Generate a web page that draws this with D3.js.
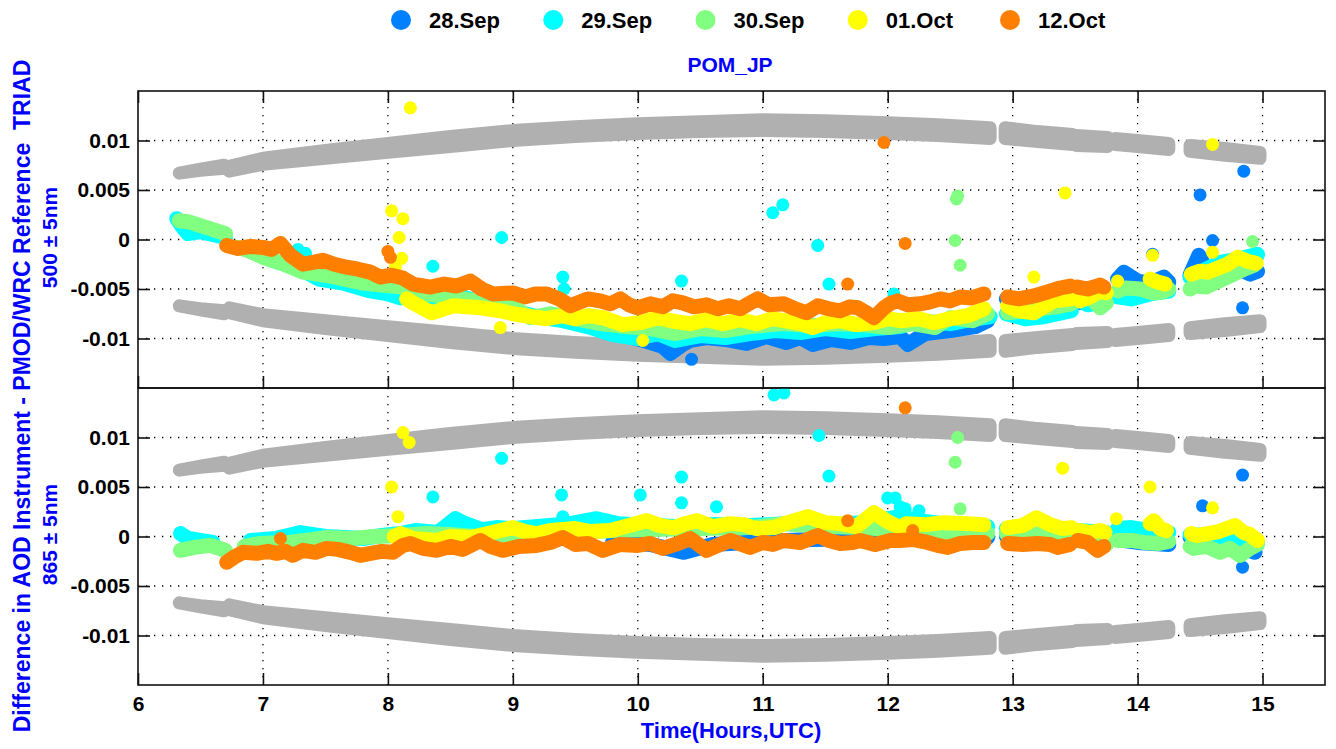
<!DOCTYPE html>
<html><head><meta charset="utf-8">
<script src="https://cdn.jsdelivr.net/npm/d3@7/dist/d3.min.js"></script>
<style>
body{margin:0;background:#fff}
svg{display:block}
text{font-family:"Liberation Sans",Arial,sans-serif;font-weight:bold}
</style>
</head><body>
<svg id="chart" width="1336" height="749"></svg>
<script>
// ---------------- DATA ----------------
const legendLabels = ["28.Sep","29.Sep","30.Sep","01.Oct","12.Oct"];
const seriesColors = ["#0080ff","#00ffff","#80ff80","#ffff00","#ff8000"];
const envelopeColor = "#b0b0b0";
const xDomain = [6, 15.5];
const yDomain = [-0.015, 0.015];
const xTicks = [6,7,8,9,10,11,12,13,14,15];
const xTickLabels = ["6","7","8","9","10","11","12","13","14","15"];
const yTicks = [-0.01,-0.005,0,0.005,0.01];
const yTickLabels = ["-0.01","-0.005","0","0.005","0.01"];
const panelLabels = ["500 \u00b1 5nm","865 \u00b1 5nm"];
const title = "POM_JP";
const xLabel = "Time(Hours,UTC)";
const yLabel = "Difference in AOD Instrument - PMOD/WRC Reference  TRIAD";
// measurement sessions are separated at these times
const sessionBreaks = [6.71, 12.88, 13.495, 13.79, 14.33];

// gray limit band (magnitude, low / high edge), mirrored +/-
const envT  = [6.33,6.5,6.69, 6.73,7.0,7.5,8.0,8.5,9.0,9.5,10.0,10.5,11.0,11.5,12.0,12.4,12.82, 12.94,13.2,13.48, 13.51,13.76, 13.82,14.0,14.25, 14.42,14.7,14.98];
const envLo = [0.0067,0.0070,0.0072, 0.0069,0.0076,0.0082,0.0088,0.0094,0.0100,0.0104,0.0107,0.0109,0.0110,0.0109,0.0107,0.0105,0.0102, 0.0102,0.0099,0.0096, 0.0095,0.0094, 0.0096,0.0094,0.0091, 0.0089,0.0085,0.0082];
const envHi = [0.0067,0.0071,0.0075, 0.0074,0.0082,0.0090,0.0097,0.0104,0.0110,0.0114,0.0117,0.0119,0.0121,0.0120,0.0118,0.0116,0.0113, 0.0113,0.0109,0.0106, 0.0105,0.0103, 0.0102,0.0100,0.0097, 0.0095,0.0092,0.0088];

// ---- 500 nm panel ----
const sep28Top = [[9.75,-0.0094],[9.9,-0.0097],[10.05,-0.0102],[10.2,-0.0108],[10.26,-0.0115],[10.36,-0.0106],[10.42,-0.0102],[10.55,-0.0099],[10.7,-0.0101],[10.87,-0.0105],[11.03,-0.0098],[11.19,-0.0104],[11.3,-0.0099],[11.4,-0.0106],[11.55,-0.0101],[11.7,-0.0104],[11.85,-0.0099],[11.97,-0.0100],[12.1,-0.0098],[12.16,-0.0106],[12.3,-0.0095],[12.5,-0.0092],[12.7,-0.0088],[12.8,-0.0082],
  [12.95,-0.0060],[13.1,-0.0068],[13.3,-0.0066],[13.47,-0.0062],
  [13.52,-0.0064],[13.65,-0.0062],[13.75,-0.0060],
  [13.84,-0.0040],[13.89,-0.0033],[14.0,-0.0042],[14.1,-0.0044],[14.21,-0.0038],[14.25,-0.0043],
  [14.42,-0.0036],[14.49,-0.0016],[14.55,-0.0030],[14.7,-0.0034],[14.82,-0.0030],[14.9,-0.0035],[14.96,-0.0032]];
const sep28TopOut = [[10.43,-0.0121],[14.5,0.0045],[14.85,0.0069],[14.6,-0.0001],[14.84,-0.0069],[14.12,-0.0015]];

const sep29Top = [[6.31,0.0021],[6.36,0.0012],[6.40,0.0006],[6.5,0.0008],[6.7,0.0002],[6.9,-0.0012],[7.1,-0.0022],[7.3,-0.0030],[7.45,-0.0040],[7.64,-0.0044],[7.75,-0.0048],[7.86,-0.0052],[8.0,-0.0055],[8.1,-0.0059],[8.25,-0.0056],[8.45,-0.0060],[8.6,-0.0058],[8.8,-0.0066],[9.0,-0.0072],[9.2,-0.0078],[9.4,-0.0082],[9.6,-0.0088],[9.8,-0.0096],[10.0,-0.0100],[10.16,-0.0095],[10.3,-0.0102],[10.5,-0.0097],[10.7,-0.0099],[10.9,-0.0095],[11.1,-0.0092],[11.3,-0.0094],[11.5,-0.0090],[11.7,-0.0093],[11.9,-0.0090],[12.1,-0.0088],[12.25,-0.0082],[12.5,-0.0085],[12.7,-0.0080],[12.82,-0.0078],
  [12.95,-0.0075],[13.1,-0.0080],[13.25,-0.0078],[13.47,-0.0072],
  [13.52,-0.0060],[13.6,-0.0066],[13.75,-0.0062],
  [13.84,-0.0058],[13.95,-0.0060],[14.1,-0.0055],[14.25,-0.0052],
  [14.42,-0.0038],[14.55,-0.0030],[14.66,-0.0023],[14.8,-0.0020],[14.96,-0.0015]];
const sep29TopOut = [[7.28,-0.0010],[7.34,-0.0014],[8.36,-0.0027],[8.91,0.0002],[9.4,-0.0038],[9.41,-0.0050],[10.35,-0.0042],[11.08,0.0027],[11.16,0.0035],[11.44,-0.0006],[11.53,-0.0045],[12.05,-0.0055]];

const sep30Top = [[6.33,0.0019],[6.4,0.0018],[6.5,0.0014],[6.6,0.0010],[6.7,0.0006],[6.8,-0.0008],[6.9,-0.0012],[7.0,-0.0018],[7.15,-0.0024],[7.32,-0.0033],[7.54,-0.0037],[7.8,-0.0044],[7.95,-0.0046],[8.12,-0.0048],[8.3,-0.0055],[8.5,-0.0058],[8.7,-0.0062],[9.0,-0.0067],[9.14,-0.0079],[9.3,-0.0075],[9.5,-0.0080],[9.7,-0.0085],[9.9,-0.0088],[10.1,-0.0090],[10.3,-0.0095],[10.5,-0.0090],[10.7,-0.0092],[10.9,-0.0088],[11.17,-0.0085],[11.4,-0.0087],[11.6,-0.0085],[11.8,-0.0086],[12.0,-0.0089],[12.2,-0.0085],[12.38,-0.0089],[12.5,-0.0079],[12.68,-0.0082],[12.8,-0.0075],
  [12.96,-0.0074],[13.1,-0.0072],[13.22,-0.0070],[13.35,-0.0068],[13.47,-0.0065],
  [13.52,-0.0059],[13.6,-0.0055],[13.7,-0.0069],[13.75,-0.0064],
  [13.84,-0.0052],[13.9,-0.0049],[14.02,-0.0050],[14.12,-0.0054],[14.2,-0.0053],[14.25,-0.0050],
  [14.42,-0.0050],[14.45,-0.0047],[14.55,-0.0048],[14.65,-0.0042],[14.77,-0.0035],[14.85,-0.0030],[14.93,-0.0026]];
const sep30TopOut = [[12.56,0.0044],[12.55,0.0041],[12.54,-0.0001],[12.58,-0.0026],[14.92,-0.0002]];

const oct01Top = [[8.15,-0.0060],[8.2,-0.0064],[8.35,-0.0074],[8.52,-0.0067],[8.74,-0.0069],[8.9,-0.0072],[9.0,-0.0075],[9.15,-0.0078],[9.27,-0.0080],[9.4,-0.0077],[9.5,-0.0080],[9.6,-0.0077],[9.72,-0.0079],[9.88,-0.0086],[10.02,-0.0084],[10.16,-0.0079],[10.3,-0.0083],[10.42,-0.0085],[10.55,-0.0081],[10.68,-0.0085],[10.82,-0.0081],[10.95,-0.0085],[11.08,-0.0080],[11.17,-0.0082],[11.3,-0.0085],[11.4,-0.0089],[11.5,-0.0084],[11.62,-0.0082],[11.75,-0.0086],[11.89,-0.0084],[12.0,-0.0080],[12.1,-0.0082],[12.25,-0.0080],[12.37,-0.0084],[12.5,-0.0080],[12.64,-0.0077],[12.77,-0.0070],
  [12.96,-0.0067],[13.05,-0.0072],[13.17,-0.0074],[13.33,-0.0062],[13.47,-0.0060],
  [13.54,-0.0062],[13.62,-0.0058],[13.7,-0.0052],[13.75,-0.0054],
  [14.1,-0.0040],[14.16,-0.0043],[14.22,-0.0045],
  [14.43,-0.0035],[14.5,-0.0032],[14.56,-0.0033],[14.62,-0.0030],[14.72,-0.0025],[14.8,-0.0018],[14.88,-0.0022],[14.95,-0.0024]];
const oct01TopOut = [[8.18,0.0133],[8.03,0.0029],[8.12,0.0021],[8.09,0.0002],[8.11,-0.0019],[8.06,-0.0028],[8.9,-0.0089],[10.04,-0.0102],[13.42,0.0047],[14.6,0.0096],[13.17,-0.0038],[14.12,-0.0016],[14.6,-0.0013],[13.84,-0.0042]];

const oct12Top = [[6.71,-0.0006],[6.8,-0.0009],[6.9,-0.0007],[7.0,-0.0008],[7.07,-0.0010],[7.14,-0.0004],[7.22,-0.0016],[7.32,-0.0025],[7.4,-0.0023],[7.48,-0.0021],[7.57,-0.0025],[7.67,-0.0028],[7.76,-0.0030],[7.86,-0.0033],[7.94,-0.0038],[8.03,-0.0036],[8.12,-0.0039],[8.2,-0.0045],[8.34,-0.0048],[8.45,-0.0045],[8.55,-0.0047],[8.66,-0.0042],[8.75,-0.0050],[8.84,-0.0055],[9.0,-0.0054],[9.1,-0.0058],[9.18,-0.0055],[9.27,-0.0055],[9.37,-0.0060],[9.46,-0.0067],[9.6,-0.0060],[9.7,-0.0062],[9.78,-0.0065],[9.86,-0.0060],[9.93,-0.0066],[10.0,-0.0069],[10.1,-0.0065],[10.2,-0.0068],[10.28,-0.0062],[10.36,-0.0064],[10.45,-0.0068],[10.55,-0.0066],[10.64,-0.0070],[10.73,-0.0067],[10.82,-0.0070],[10.9,-0.0064],[10.96,-0.0060],[11.05,-0.0066],[11.17,-0.0065],[11.26,-0.0070],[11.35,-0.0074],[11.44,-0.0067],[11.53,-0.0070],[11.62,-0.0072],[11.7,-0.0068],[11.76,-0.0069],[11.83,-0.0074],[11.89,-0.0079],[11.97,-0.0069],[12.03,-0.0064],[12.08,-0.0062],[12.16,-0.0066],[12.26,-0.0065],[12.34,-0.0063],[12.42,-0.0060],[12.5,-0.0062],[12.58,-0.0058],[12.67,-0.0059],[12.77,-0.0055],
  [12.96,-0.0058],[13.05,-0.0060],[13.17,-0.0057],[13.28,-0.0053],[13.38,-0.0049],[13.46,-0.0047],
  [13.52,-0.0048],[13.6,-0.0050],[13.7,-0.0046],[13.73,-0.0048]];
const oct12TopOut = [[8.0,-0.0012],[8.02,-0.0018],[11.68,-0.0045],[12.14,-0.0004],[11.97,0.0098]];

// ---- 865 nm panel ----
const sep28Bot = [[9.8,-0.0005],[10.1,-0.0008],[10.37,-0.0016],[10.6,-0.0008],[11.0,-0.0005],[11.4,-0.0003],[11.8,-0.0002],[12.2,-0.0001],[12.8,-0.0001],
  [12.95,0.0000],[13.47,0.0000],
  [13.52,0.0000],[13.75,-0.0004],
  [13.84,-0.0003],[14.0,-0.0006],[14.25,-0.0008],
  [14.42,-0.0001],[14.6,-0.0004],[14.8,-0.0010],[14.94,-0.0016]];
const sep28BotOut = [[14.52,0.0031],[14.84,0.0062],[14.84,-0.0031]];

const sep29Bot = [[6.34,0.0003],[6.4,-0.0002],[6.6,-0.0006],[6.9,-0.0004],[7.1,-0.0002],[7.3,0.0004],[7.5,0.0000],[7.8,-0.0002],[7.95,0.0001],[8.1,0.0003],[8.22,0.0006],[8.4,0.0004],[8.54,0.0018],[8.62,0.0013],[8.75,0.0007],[8.87,0.0009],[9.0,0.0008],[9.2,0.0010],[9.46,0.0013],[9.67,0.0018],[9.84,0.0013],[10.0,0.0012],[10.3,0.0010],[10.6,0.0012],[10.9,0.0011],[11.2,0.0013],[11.5,0.0012],[11.8,0.0014],[12.0,0.0018],[12.1,0.0020],[12.25,0.0016],[12.5,0.0012],[12.8,0.0010],
  [12.95,0.0008],[13.2,0.0010],[13.47,0.0006],
  [13.52,0.0006],[13.75,0.0004],
  [13.84,0.0008],[13.95,0.0009],[14.05,0.0007],[14.17,0.0006],[14.25,0.0004],
  [14.42,0.0002],[14.55,0.0001],[14.66,0.0000],[14.8,-0.0002],[14.96,-0.0006]];
const sep29BotOut = [[8.36,0.0040],[8.91,0.0079],[9.39,0.0042],[9.4,0.0020],[10.02,0.0042],[10.35,0.0060],[10.35,0.0034],[10.63,0.0030],[11.53,0.0061],[11.45,0.0102],[11.09,0.0143],[11.17,0.0145],[12.0,0.0039],[12.06,0.0039],[12.14,0.0028],[12.1,0.0030],[12.25,0.0026],[8.58,0.0016]];

const sep30Bot = [[6.34,-0.0014],[6.45,-0.0011],[6.58,-0.0009],[6.7,-0.0014],[6.85,-0.0010],[6.98,-0.0007],[7.2,-0.0006],[7.4,-0.0003],[7.51,-0.0001],[7.7,-0.0002],[7.9,0.0000],[8.1,0.0001],[8.31,0.0003],[8.5,0.0002],[8.7,0.0000],[8.98,-0.0001],[9.2,0.0002],[9.5,0.0004],[9.8,0.0006],[10.1,0.0007],[10.5,0.0008],[10.9,0.0009],[11.17,0.0013],[11.5,0.0010],[11.8,0.0009],[12.1,0.0006],[12.4,0.0004],[12.8,0.0003],
  [12.95,0.0003],[13.2,0.0004],[13.47,0.0002],
  [13.52,-0.0002],[13.75,-0.0008],
  [13.84,-0.0004],[13.95,-0.0004],[14.05,-0.0006],[14.17,-0.0007],[14.25,-0.0005],
  [14.42,-0.0010],[14.45,-0.0012],[14.55,-0.0010],[14.66,-0.0016],[14.74,-0.0012],[14.82,-0.0019],[14.9,-0.0012],[14.96,-0.0008]];
const sep30BotOut = [[12.56,0.0100],[12.54,0.0075],[12.58,0.0028]];

const oct01Bot = [[8.05,0.0000],[8.1,0.0003],[8.2,-0.0002],[8.39,-0.0004],[8.5,0.0000],[8.66,-0.0001],[8.8,0.0003],[9.0,0.0009],[9.1,0.0005],[9.19,0.0003],[9.3,0.0006],[9.5,0.0008],[9.62,0.0005],[9.78,0.0006],[9.9,0.0010],[10.07,0.0016],[10.18,0.0011],[10.29,0.0009],[10.38,0.0013],[10.47,0.0016],[10.6,0.0010],[10.74,0.0013],[10.85,0.0012],[10.95,0.0008],[11.09,0.0009],[11.2,0.0014],[11.36,0.0020],[11.5,0.0014],[11.62,0.0013],[11.75,0.0010],[11.89,0.0024],[12.0,0.0015],[12.1,0.0009],[12.15,0.0013],[12.3,0.0012],[12.45,0.0014],[12.64,0.0013],[12.77,0.0012],
  [12.96,0.0009],[13.08,0.0011],[13.19,0.0019],[13.3,0.0012],[13.4,0.0008],[13.47,0.0009],
  [13.54,0.0006],[13.62,0.0004],[13.7,0.0006],[13.74,0.0004],
  [14.1,0.0013],[14.13,0.0016],[14.18,0.0008],[14.23,0.0006],
  [14.43,0.0003],[14.48,0.0001],[14.56,0.0003],[14.65,0.0005],[14.78,0.0011],[14.85,0.0004],[14.9,0.0002],[14.96,-0.0004]];
const oct01BotOut = [[8.12,0.0105],[8.17,0.0095],[8.03,0.0050],[8.08,0.0020],[13.4,0.0069],[13.83,0.0018],[14.1,0.0050],[14.6,0.0029]];

const oct12Bot = [[6.71,-0.0026],[6.78,-0.0020],[6.84,-0.0016],[6.95,-0.0017],[7.04,-0.0015],[7.11,-0.0017],[7.18,-0.0015],[7.24,-0.0019],[7.32,-0.0014],[7.42,-0.0016],[7.51,-0.0012],[7.6,-0.0013],[7.7,-0.0016],[7.78,-0.0019],[7.86,-0.0017],[7.95,-0.0015],[8.04,-0.0016],[8.12,-0.0009],[8.18,-0.0007],[8.28,-0.0012],[8.39,-0.0014],[8.5,-0.0010],[8.6,-0.0013],[8.74,-0.0004],[8.82,-0.0010],[8.92,-0.0014],[9.05,-0.0010],[9.19,-0.0009],[9.3,-0.0006],[9.4,-0.0001],[9.5,-0.0008],[9.6,-0.0007],[9.72,-0.0014],[9.86,-0.0008],[10.0,-0.0009],[10.1,-0.0007],[10.2,-0.0012],[10.3,-0.0008],[10.42,-0.0002],[10.55,-0.0014],[10.64,-0.0009],[10.74,-0.0004],[10.9,-0.0011],[11.0,-0.0006],[11.08,-0.0008],[11.17,-0.0004],[11.3,-0.0006],[11.44,0.0001],[11.53,-0.0004],[11.62,-0.0007],[11.72,-0.0006],[11.78,-0.0004],[11.9,-0.0008],[12.02,-0.0004],[12.1,-0.0004],[12.2,-0.0003],[12.32,-0.0006],[12.4,-0.0009],[12.48,-0.0011],[12.58,-0.0007],[12.68,-0.0006],[12.77,-0.0006],
  [12.96,-0.0007],[13.08,-0.0008],[13.2,-0.0007],[13.3,-0.0008],[13.36,-0.0011],[13.46,-0.0008],
  [13.52,-0.0004],[13.6,-0.0006],[13.68,-0.0014],[13.73,-0.0010]];
const oct12BotOut = [[7.14,-0.0002],[11.68,0.0016],[12.14,0.0130],[12.2,0.0006]];

const topSeries = [sep28Top, sep29Top, sep30Top, oct01Top, oct12Top];
const topOutliers = [sep28TopOut, sep29TopOut, sep30TopOut, oct01TopOut, oct12TopOut];
const botSeries = [sep28Bot, sep29Bot, sep30Bot, oct01Bot, oct12Bot];
const botOutliers = [sep28BotOut, sep29BotOut, sep30BotOut, oct01BotOut, oct12BotOut];

// ---------------- DRAW ----------------
const svg = d3.select("#chart");
const L = 138, R = 1325, T1 = 91, M = 388, B2 = 685;
const x = d3.scaleLinear().domain(xDomain).range([L, R]);
const panels = [
  {y: d3.scaleLinear().domain(yDomain).range([M, T1]), top: T1, bottom: M, series: topSeries, outliers: topOutliers, label: panelLabels[0], id: "p1"},
  {y: d3.scaleLinear().domain(yDomain).range([B2, M]), top: M, bottom: B2, series: botSeries, outliers: botOutliers, label: panelLabels[1], id: "p2"}
];
const markR = 6.5;
const bandW = 15;

function splitSessions(pts){
  const segs = []; let cur = []; let prev = null;
  pts.forEach(p => {
    const idx = d3.bisect(sessionBreaks, p[0]);
    if (prev !== null && idx !== prev && cur.length){ segs.push(cur); cur = []; }
    cur.push(p); prev = idx;
  });
  if (cur.length) segs.push(cur);
  return segs;
}
const envRows = envT.map((t,i) => [t, envLo[i], envHi[i]]);
const envSegs = splitSessions(envRows);

const defs = svg.append("defs");
const fontFam = "'Liberation Sans', Arial, sans-serif";

panels.forEach((P, pi) => {
  const y = P.y;
  defs.append("clipPath").attr("id", "clip" + P.id)
    .append("rect").attr("x", L).attr("y", P.top).attr("width", R - L).attr("height", P.bottom - P.top);

  // grid
  const grid = svg.append("g");
  grid.selectAll("line.gx").data(xTicks.filter(v => v > xDomain[0])).join("line")
    .attr("x1", d => x(d)).attr("x2", d => x(d)).attr("y1", P.top).attr("y2", P.bottom)
    .attr("stroke", "#000").attr("stroke-width", 1.3).attr("stroke-dasharray", "1.3,6.7");
  grid.selectAll("line.gy").data(yTicks).join("line")
    .attr("y1", d => y(d)).attr("y2", d => y(d)).attr("x1", L).attr("x2", R)
    .attr("stroke", "#000").attr("stroke-width", 1.3).attr("stroke-dasharray", "1.3,6.7");

  const plot = svg.append("g").attr("clip-path", "url(#clip" + P.id + ")");

  // limit bands
  [1, -1].forEach(sign => {
    const area = d3.area().x(d => x(d[0])).y0(d => y(sign * d[1])).y1(d => y(sign * d[2]));
    envSegs.forEach(seg => {
      plot.append("path").attr("d", area(seg))
        .attr("fill", envelopeColor).attr("stroke", envelopeColor)
        .attr("stroke-width", markR * 2).attr("stroke-linejoin", "round");
    });
  });

  // series
  const line = d3.line().x(d => x(d[0])).y(d => y(d[1]));
  P.series.forEach((pts, si) => {
    const col = seriesColors[si];
    const g = plot.append("g");
    splitSessions(pts).forEach(seg => {
      g.append("path").attr("d", line(seg)).attr("fill", "none")
        .attr("stroke", col).attr("stroke-width", bandW)
        .attr("stroke-linecap", "round").attr("stroke-linejoin", "round");
    });
    g.selectAll("circle.m").data(pts.concat(P.outliers[si])).join("circle")
      .attr("cx", d => x(d[0])).attr("cy", d => y(d[1])).attr("r", markR).attr("fill", col);
  });

  // axes (inward ticks)
  const tickStyle = g => {
    g.select(".domain").remove();
    g.selectAll(".tick line").attr("stroke", "#111").attr("stroke-width", 1.6);
    g.selectAll(".tick text").attr("fill", "#000").attr("font-size", 21)
      .attr("font-family", fontFam).attr("font-weight", "bold");
  };
  svg.append("g").attr("transform", `translate(${L},0)`)
    .call(d3.axisLeft(y).tickValues(yTicks).tickSize(-12).tickPadding(8).tickFormat((d, i) => yTickLabels[i]))
    .call(tickStyle);
  svg.append("g").attr("transform", `translate(${R},0)`)
    .call(d3.axisRight(y).tickValues(yTicks).tickSize(-12).tickFormat(""))
    .call(tickStyle);
  if (pi === 0) {
    svg.append("g").attr("transform", `translate(0,${P.top})`)
      .call(d3.axisTop(x).tickValues(xTicks).tickSize(-12).tickFormat(""))
      .call(tickStyle);
    svg.append("g").attr("transform", `translate(0,${P.bottom})`)
      .call(d3.axisBottom(x).tickValues(xTicks).tickSize(-12).tickFormat(""))
      .call(tickStyle);
  } else {
    svg.append("g").attr("transform", `translate(0,${P.bottom})`)
      .call(d3.axisBottom(x).tickValues(xTicks).tickSize(-12).tickPadding(11).tickFormat((d, i) => xTickLabels[i]))
      .call(tickStyle);
  }

  // frame
  svg.append("rect").attr("x", L).attr("y", P.top).attr("width", R - L).attr("height", P.bottom - P.top)
    .attr("fill", "none").attr("stroke", "#111").attr("stroke-width", 1.6);

  // panel wavelength label
  svg.append("text")
    .attr("transform", `translate(57,${(P.top + P.bottom) / 2 - 2}) rotate(-90)`)
    .attr("text-anchor", "middle").attr("fill", "#0000ff").attr("font-size", 21)
    .text(P.label);
});

// y label
svg.append("text")
  .attr("transform", `translate(30,396) rotate(-90)`)
  .attr("text-anchor", "middle").attr("fill", "#0000ff").attr("font-size", 23)
  .style("white-space", "pre")
  .text(yLabel);

// x label
svg.append("text").attr("x", 731).attr("y", 738).attr("text-anchor", "middle")
  .attr("fill", "#0000ff").attr("font-size", 22).text(xLabel);

// title
svg.append("text").attr("x", 730).attr("y", 72).attr("text-anchor", "middle")
  .attr("fill", "#0000ff").attr("font-size", 21).text(title);

// legend
const legX = d3.scalePoint().domain(legendLabels).range([401, 1010]);
const leg = svg.append("g").selectAll("g").data(legendLabels).join("g")
  .attr("transform", d => `translate(${legX(d)},20)`);
leg.append("circle").attr("r", 10).attr("fill", (d, i) => seriesColors[i]);
leg.append("text").attr("x", 28).attr("y", 8).attr("font-size", 22).attr("fill", "#000").text(d => d);
</script>
</body></html>
